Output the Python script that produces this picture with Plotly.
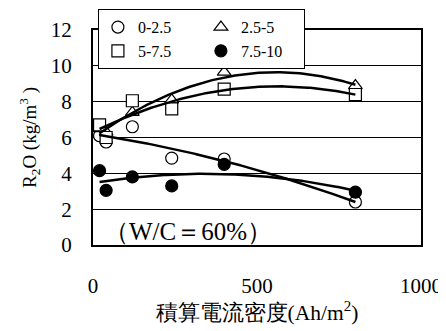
import numpy as np
import plotly.graph_objects as go

# Data
x_vals = [20, 40, 120, 240, 400, 800]
s_0_25 = [6.1, 5.75, 6.6, 4.85, 4.8, 2.4]      # 0-2.5 (open circle)
s_25_5 = [6.5, 6.3, 7.4, 8.1, 9.65, 8.9]       # 2.5-5 (open triangle)
s_5_75 = [6.7, 6.0, 8.05, 7.6, 8.7, 8.4]       # 5-7.5 (open square)
s_75_10 = [4.15, 3.05, 3.8, 3.3, 4.5, 2.95]    # 7.5-10 (filled circle)

series = [
    ("0-2.5", s_0_25, "circle", "white", "a"),
    ("2.5-5", s_25_5, "triangle-up", "white", "b"),
    ("5-7.5", s_5_75, "square", "white", "a"),
    ("7.5-10", s_75_10, "circle", "black", "b"),
]

x_ticks = [0, 500, 1000]
y_ticks = [0, 2, 4, 6, 8, 10, 12]

SERIF = "'Liberation Serif', 'Times New Roman', Times, serif"

fig = go.Figure()
for name, ys, sym, fill, grp in series:
    fig.add_trace(go.Scatter(
        x=x_vals, y=ys, mode="markers", name=name, legendgroup=grp,
        marker=dict(symbol=sym, size=12, color=fill,
                    line=dict(color="black", width=1.2)),
    ))

# quadratic trend lines fitted to each series
xs = np.array(x_vals, dtype=float)
xfit = np.linspace(xs.min(), xs.max(), 120)
for name, ys, sym, fill, grp in series:
    c = np.polyfit(xs, np.array(ys, dtype=float), 2)
    fig.add_trace(go.Scatter(
        x=xfit, y=np.polyval(c, xfit), mode="lines", showlegend=False,
        line=dict(color="black", width=2.5), hoverinfo="skip",
    ))

fig.add_annotation(
    text="（W/C＝60%）", xref="paper", yref="paper", x=0.028, y=0.065,
    xanchor="left", yanchor="middle", showarrow=False,
    font=dict(family=SERIF, size=25, color="black"),
)

fig.update_layout(
    width=438, height=323,
    margin=dict(l=85, r=25, t=22, b=86, autoexpand=False),
    paper_bgcolor="white", plot_bgcolor="white",
    font=dict(family=SERIF, color="black"),
    showlegend=True,
    legend=dict(
        orientation="h", x=0.015, y=1.097, xanchor="left", yanchor="top",
        bgcolor="white", bordercolor="black", borderwidth=1,
        font=dict(family=SERIF, size=16, color="black"),
        traceorder="grouped", tracegroupgap=0, itemwidth=30,
        entrywidth=58, entrywidthmode="pixels",
    ),
)
fig.update_xaxes(
    range=[0, 1000], tickvals=x_ticks, ticktext=[str(v) for v in x_ticks],
    showgrid=False, zeroline=False, automargin=False,
    showline=True, linecolor="black", linewidth=2, mirror=True,
    ticks="outside", ticklen=21, tickcolor="rgba(0,0,0,0)",
    tickfont=dict(family=SERIF, size=21, color="black"),
    title=dict(text="積算電流密度(Ah/m<sup>2</sup>)", standoff=6,
               font=dict(family=SERIF, size=21.5, color="black")),
)
fig.update_yaxes(
    range=[0, 12], tickvals=y_ticks, ticktext=[str(v) for v in y_ticks],
    showgrid=True, gridcolor="black", gridwidth=1, zeroline=False, automargin=False,
    showline=True, linecolor="black", linewidth=2, mirror=True,
    ticks="outside", ticklen=15, tickcolor="rgba(0,0,0,0)",
    tickfont=dict(family=SERIF, size=21, color="black"),
    title=dict(text="R<sub>2</sub>O (kg/m<sup>3</sup> )", standoff=9,
               font=dict(family=SERIF, size=19, color="black")),
)

fig.write_html("out.html")
